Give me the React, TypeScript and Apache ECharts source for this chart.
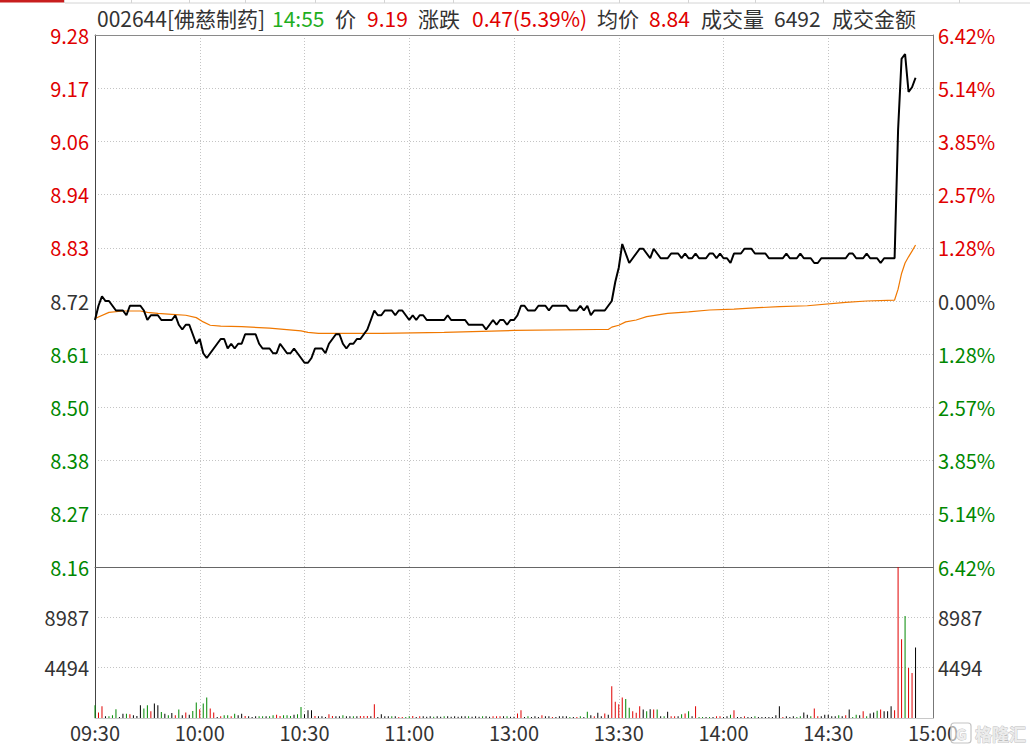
import React, { useEffect, useRef } from 'react';
import * as echarts from 'echarts';

const PREV_CLOSE = 8.72;
const VOL_MAX = 13481;
const FONT = '"Microsoft YaHei", "Noto Sans CJK SC", sans-serif';

const timeLabels = ['09:30', '10:00', '10:30', '11:00', '13:00', '13:30', '14:00', '14:30', '15:00'];

// minute-by-minute price, 09:30 .. 11:30 | 13:01 .. 14:55
const prices = [
  8.68, 8.71, 8.73, 8.72, 8.72, 8.71, 8.70, 8.70, 8.70, 8.69,
  8.71, 8.71, 8.71, 8.71, 8.70, 8.68, 8.69, 8.69, 8.69, 8.68,
  8.68, 8.68, 8.68, 8.69, 8.67, 8.66, 8.67, 8.67, 8.65, 8.63,
  8.64, 8.61, 8.60, 8.61, 8.62, 8.63, 8.64, 8.64, 8.62, 8.63,
  8.62, 8.63, 8.63, 8.65, 8.65, 8.65, 8.65, 8.63, 8.62, 8.62,
  8.62, 8.61, 8.61, 8.63, 8.62, 8.61, 8.61, 8.62, 8.61, 8.60,
  8.59, 8.59, 8.60, 8.62, 8.62, 8.62, 8.61, 8.63, 8.64, 8.65,
  8.65, 8.63, 8.62, 8.63, 8.63, 8.64, 8.64, 8.65, 8.66, 8.68,
  8.70, 8.69, 8.69, 8.70, 8.70, 8.70, 8.69, 8.70, 8.70, 8.69,
  8.68, 8.69, 8.68, 8.69, 8.69, 8.68, 8.68, 8.68, 8.68, 8.68,
  8.68, 8.69, 8.68, 8.68, 8.68, 8.68, 8.68, 8.67, 8.67, 8.67,
  8.67, 8.67, 8.66, 8.67, 8.68, 8.67, 8.68, 8.68, 8.67, 8.68,
  8.68, 8.69, 8.71, 8.71, 8.70, 8.70, 8.70, 8.71, 8.71, 8.71,
  8.70, 8.71, 8.71, 8.71, 8.71, 8.71, 8.70, 8.70, 8.70, 8.71,
  8.70, 8.71, 8.69, 8.70, 8.70, 8.70, 8.70, 8.71, 8.72, 8.76,
  8.79, 8.84, 8.82, 8.80, 8.81, 8.82, 8.83, 8.83, 8.82, 8.81,
  8.83, 8.82, 8.81, 8.81, 8.81, 8.82, 8.82, 8.82, 8.81, 8.82,
  8.81, 8.81, 8.82, 8.81, 8.81, 8.81, 8.82, 8.82, 8.81, 8.82,
  8.81, 8.81, 8.80, 8.82, 8.82, 8.82, 8.83, 8.83, 8.83, 8.82,
  8.82, 8.82, 8.82, 8.81, 8.81, 8.81, 8.81, 8.81, 8.82, 8.81,
  8.81, 8.81, 8.82, 8.81, 8.81, 8.81, 8.80, 8.80, 8.81, 8.81,
  8.81, 8.81, 8.81, 8.81, 8.81, 8.81, 8.82, 8.82, 8.81, 8.81,
  8.81, 8.82, 8.81, 8.81, 8.81, 8.80, 8.81, 8.81, 8.81, 8.81,
  9.08, 9.23, 9.24, 9.16, 9.17, 9.19,
];

// average price, read at these minutes
const avgMinutes = [
  0, 4, 8, 13, 15, 18, 22, 26, 29, 31, 33, 36, 42, 50, 59, 61, 64, 82, 100, 120,
  144, 147, 148, 150, 152, 155, 158, 164, 170, 176, 183, 190, 196, 204, 215, 221, 229,
  230, 231, 232, 233, 234, 235,
];
const avgPrices = [
  8.683, 8.696, 8.699, 8.699, 8.696, 8.694, 8.692, 8.690, 8.685, 8.676, 8.669, 8.667, 8.666, 8.663, 8.657, 8.654, 8.652, 8.652, 8.654, 8.658,
  8.660, 8.660, 8.665, 8.669, 8.676, 8.680, 8.687, 8.694, 8.697, 8.701, 8.703, 8.706, 8.708, 8.710, 8.717, 8.720, 8.722,
  8.745, 8.778, 8.800, 8.813, 8.825, 8.838,
];

// minute volumes (lots)
const volumes = [
  1140, 480, 1050, 150, 150, 240, 780, 90, 390, 390,
  330, 240, 180, 1140, 840, 1140, 600, 1290, 1140, 540,
  390, 240, 450, 240, 750, 240, 480, 300, 630, 1380,
  780, 1290, 1830, 840, 480, 90, 150, 240, 240, 150,
  390, 240, 390, 180, 150, 90, 150, 150, 150, 150,
  150, 240, 300, 180, 240, 240, 180, 300, 330, 990,
  330, 690, 690, 180, 150, 150, 90, 330, 180, 150,
  150, 240, 150, 150, 150, 150, 180, 180, 180, 150,
  1230, 90, 330, 150, 150, 150, 150, 90, 90, 90,
  150, 180, 90, 150, 150, 120, 150, 120, 150, 120,
  150, 150, 120, 150, 120, 150, 150, 150, 120, 150,
  120, 150, 150, 120, 150, 150, 150, 150, 150, 120,
  120, 400, 700, 90, 150, 90, 150, 90, 240, 150,
  150, 90, 90, 150, 150, 150, 90, 90, 90, 150,
  90, 550, 240, 150, 460, 150, 400, 300, 2830, 1460,
  1220, 1820, 1700, 910, 610, 460, 1060, 760, 610, 790,
  760, 760, 150, 150, 550, 150, 150, 150, 330, 400,
  610, 150, 1060, 90, 90, 90, 90, 90, 150, 150,
  90, 150, 300, 700, 90, 90, 150, 90, 90, 150,
  90, 90, 90, 90, 90, 240, 1060, 90, 150, 90,
  150, 90, 150, 490, 300, 150, 850, 150, 150, 300,
  300, 150, 150, 240, 150, 240, 760, 90, 300, 240,
  610, 150, 400, 490, 640, 760, 610, 610, 1060, 700,
  13481, 7040, 9100, 4460, 4010, 6290,
];

// bar colour per minute: r = up, g = down, k = unchanged
const volumeDirs = [
  'grrkgggkkg', 'rkkkggrkkg', 'kgkrgkrkgg', 'rggrrkrggr', 'gkkrkkkggk',
  'ggrrgggkgg', 'kkkrkkkrrk', 'kgkkgkrrrk', 'rkkkkgkrrg', 'grkrkkkgkk',
  'gkkkkkkgkk', 'kgkkrrrkgk', 'krrkgkkkrk', 'krkkkkgkrg', 'kgkrkkrkrr',
  'rrggrrrkgk', 'rgkgkrrkgr', 'gkrggkgkrr', 'kkgrkkrkkg', 'kkkkkkkrkk',
  'kggkkgrrkk', 'kkkgkrkggk', 'rgkkgrkkkr', 'rrgrr',
].join('');

const dirColor: Record<string, string> = { r: '#e00000', g: '#008800', k: '#000000' };

const headerItems = [
  { x: 97, text: '002644[佛慈制药]', color: '#333333' },
  { x: 272, text: '14:55', color: '#1fae1f' },
  { x: 335, text: '价', color: '#333333' },
  { x: 367, text: '9.19', color: '#e00000' },
  { x: 418, text: '涨跌', color: '#333333' },
  { x: 472, text: '0.47(5.39%)', color: '#e00000' },
  { x: 597, text: '均价', color: '#333333' },
  { x: 649, text: '8.84', color: '#e00000' },
  { x: 701, text: '成交量', color: '#333333' },
  { x: 774, text: '6492', color: '#333333' },
  { x: 832, text: '成交金额', color: '#333333' },
];

const tabSeparators = [64, 131, 189, 245, 315, 384, 453, 619, 688, 755, 823, 959];

const RED = '#e00000';
const GREEN = '#008800';
const DARK = '#333333';

function offColor(v: any) {
  const n = Number(v);
  if (n > 0.5) return RED;
  if (n < -0.5) return GREEN;
  return DARK;
}

function priceLabel(v: any) {
  const n = Number(v);
  return (Math.round(PREV_CLOSE * 100 + n / 10) / 100).toFixed(2);
}

function pctLabel(v: any) {
  const n = Math.abs(Number(v));
  return (Math.round((n / (PREV_CLOSE * 1000)) * 10000) / 100).toFixed(2) + '%';
}

function volLabel(v: any) {
  const n = Number(v);
  if (n < 1 || n > VOL_MAX - 1) return '';
  return String(Math.round(n));
}

export default function App() {
  const ref = useRef<HTMLDivElement>(null);

  useEffect(() => {
    if (!ref.current) return;
    const chart = echarts.init(ref.current, undefined, { renderer: 'svg' });

    const priceData = prices.map((p, i) => [i, Math.round((p - PREV_CLOSE) * 1000)]);
    const avgData = avgMinutes.map((m, i) => [m, Math.round((avgPrices[i] - PREV_CLOSE) * 1000)]);
    const volData = volumes.map((v, i) => ({
      value: [i, v],
      itemStyle: { color: dirColor[volumeDirs[i]] || '#000' },
    }));

    const dotted = { color: '#c4c4c4', type: [1, 2] as any, width: 1 };
    const labelBase = { fontSize: 20, fontFamily: FONT };

    const graphics: any[] = [
      { type: 'rect', shape: { x: 0, y: 0, width: 65, height: 2.5 }, style: { fill: '#c81e1e' }, silent: true },
      { type: 'line', shape: { x1: 65, y1: 3, x2: 1030, y2: 3 }, style: { stroke: '#d4d4d4', lineWidth: 1 }, silent: true },
      ...tabSeparators.map((x) => ({
        type: 'line',
        shape: { x1: x + 0.5, y1: 0, x2: x + 0.5, y2: 3 },
        style: { stroke: '#d4d4d4', lineWidth: 1 },
        silent: true,
      })),
      ...headerItems.map((h) => ({
        type: 'text',
        x: h.x,
        y: 18,
        style: {
          text: h.text,
          fill: h.color,
          font: `21px ${FONT}`,
          verticalAlign: 'middle',
          align: 'left',
        },
        silent: true,
      })),
      {
        type: 'rect',
        shape: { x: 951, y: 723, width: 20, height: 20, r: 3 },
        style: { fill: 'rgba(255,255,255,0.6)', stroke: '#c4c4c4', lineWidth: 1.2 },
        z: 100,
        silent: true,
      },
      {
        type: 'text',
        x: 956,
        y: 733,
        style: { text: 'G', fill: '#eeeeee', stroke: '#bdbdbd', lineWidth: 0.8, font: `bold 15px ${FONT}`, verticalAlign: 'middle' },
        z: 100,
        silent: true,
      },
      {
        type: 'text',
        x: 975,
        y: 733,
        style: { text: '格隆汇', fill: '#ececec', stroke: '#bdbdbd', lineWidth: 0.8, font: `bold 17px ${FONT}`, verticalAlign: 'middle' },
        z: 100,
        silent: true,
      },
    ];

    chart.setOption({
      animation: false,
      backgroundColor: '#ffffff',
      textStyle: { fontFamily: FONT },
      grid: [
        { left: 95, top: 35, width: 838, height: 532, show: false },
        { left: 95, top: 567, width: 838, height: 151, show: false },
      ],
      xAxis: [
        {
          gridIndex: 0, type: 'value', min: 0, max: 240, interval: 30, position: 'bottom',
          axisLine: { show: true, onZero: false, lineStyle: { color: '#666666', width: 1 } },
          axisTick: { show: false }, axisLabel: { show: false },
          splitLine: { show: true, lineStyle: dotted, showMinLine: false, showMaxLine: false },
        },
        {
          gridIndex: 0, type: 'value', min: 0, max: 240, interval: 30, position: 'top',
          axisLine: { show: true, onZero: false, lineStyle: { color: '#8a8a8a', width: 1 } },
          axisTick: { show: false }, axisLabel: { show: false }, splitLine: { show: false },
        },
        {
          gridIndex: 1, type: 'value', min: 0, max: 240, interval: 30, position: 'bottom',
          axisLine: { show: true, onZero: false, lineStyle: { color: '#c8c8c8', width: 1 } },
          axisTick: { show: false },
          axisLabel: {
            ...labelBase, color: DARK, margin: 4, showMinLabel: true, showMaxLabel: true,
            formatter: (v: number) => timeLabels[Math.round(v / 30)] || '',
          },
          splitLine: { show: true, lineStyle: dotted, showMinLine: false, showMaxLine: false },
        },
      ],
      yAxis: [
        {
          gridIndex: 0, type: 'value', min: -560, max: 560, interval: 112, position: 'left',
          axisLine: { show: true, onZero: false, lineStyle: { color: '#444444', width: 1 } },
          axisTick: { show: false },
          axisLabel: { ...labelBase, margin: 6, formatter: priceLabel, color: (v: any) => offColor(v) },
          splitLine: { show: true, lineStyle: dotted, showMinLine: false, showMaxLine: false },
        },
        {
          gridIndex: 0, type: 'value', min: -560, max: 560, interval: 112, position: 'right',
          axisLine: { show: true, onZero: false, lineStyle: { color: '#777777', width: 1 } },
          axisTick: { show: false },
          axisLabel: { ...labelBase, margin: 5, formatter: pctLabel, color: (v: any) => offColor(v) },
          splitLine: { show: false },
        },
        {
          gridIndex: 1, type: 'value', min: 0, max: VOL_MAX, interval: VOL_MAX / 3, position: 'left',
          axisLine: { show: true, onZero: false, lineStyle: { color: '#444444', width: 1 } },
          axisTick: { show: false },
          axisLabel: { ...labelBase, margin: 6, color: DARK, formatter: volLabel },
          splitLine: { show: true, lineStyle: dotted, showMinLine: false, showMaxLine: false },
        },
        {
          gridIndex: 1, type: 'value', min: 0, max: VOL_MAX, interval: VOL_MAX / 3, position: 'right',
          axisLine: { show: true, onZero: false, lineStyle: { color: '#777777', width: 1 } },
          axisTick: { show: false },
          axisLabel: { ...labelBase, margin: 5, color: DARK, formatter: volLabel },
          splitLine: { show: false },
        },
      ],
      series: [
        {
          name: '均价', type: 'line', xAxisIndex: 0, yAxisIndex: 0, data: avgData,
          showSymbol: false, symbol: 'none', lineStyle: { color: '#f07800', width: 1.2 }, z: 3, silent: true,
        },
        {
          name: '价格', type: 'line', xAxisIndex: 0, yAxisIndex: 0, data: priceData,
          showSymbol: false, symbol: 'none', lineStyle: { color: '#000000', width: 2 }, z: 4, silent: true,
        },
        {
          name: '成交量', type: 'bar', xAxisIndex: 2, yAxisIndex: 2, data: volData,
          barWidth: 1, silent: true,
        },
      ],
      graphic: graphics,
    });

    return () => {
      chart.dispose();
    };
  }, []);

  return (
    <div
      ref={ref}
      style={{ position: 'fixed', left: 0, top: 0, width: 1030, height: 747, background: '#ffffff' }}
    />
  );
}
